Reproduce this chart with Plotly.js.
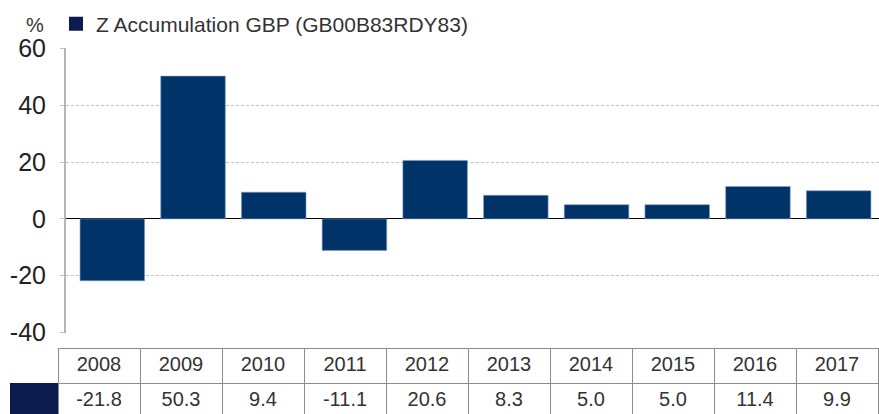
<!DOCTYPE html>
<html>
<head>
<meta charset="utf-8">
<script src="https://cdn.plot.ly/plotly-3.0.1.min.js"></script>
<style>html,body{margin:0;padding:0;background:#fff;}#chart{width:879px;height:414px;}</style>
</head>
<body>
<div id="chart"></div>
<script>
var years = ["2008","2009","2010","2011","2012","2013","2014","2015","2016","2017"];
var returns = [-21.8, 50.3, 9.4, -11.1, 20.6, 8.3, 5.0, 5.0, 11.4, 9.9];
var seriesName = "Z Accumulation GBP (GB00B83RDY83)";
var yTicks = [-40, -20, 0, 20, 40, 60];

var W = 879, H = 414, ML = 10, MT = 48, MB = 0, MR = 0;
var PW = W - ML - MR, PH = H - MT - MB;
var axisLeft = 66, plotBottom = 333, tableTop = 348;
var FONT = "Liberation Sans, Arial, sans-serif";

var bar = {
  type: "bar",
  x: years.map(function(_, i){ return i; }),
  y: returns,
  name: seriesName,
  width: 0.8,
  marker: {color: "#003469", line: {color: "#7f9cc2", width: 0.6}},
  hoverinfo: "skip",
  showlegend: false
};

// legend key (proxy with no plotted points)
var legendKey = {
  type: "scatter",
  mode: "markers",
  x: [null], y: [null],
  name: seriesName,
  marker: {symbol: "square", size: 14, color: "#0b1b4d"},
  showlegend: true,
  hoverinfo: "skip"
};

var headerVals = [[""]].concat(years.map(function(y){ return [y]; }));
var cellVals = [[""]].concat(returns.map(function(v){ return [v.toFixed(1)]; }));
var lineCols = ["rgba(0,0,0,0)"].concat(years.map(function(){ return "#8c8c8c"; }));
var cellFill = ["#0b1b4d"].concat(years.map(function(){ return "#ffffff"; }));

var table = {
  type: "table",
  domain: {x: [0, 868 / PW], y: [0, (H - tableTop) / PH]},
  columnwidth: [48].concat(years.map(function(){ return 82; })),
  header: {
    values: headerVals,
    height: 35,
    align: "center",
    fill: {color: "#ffffff"},
    line: {color: lineCols, width: 1},
    font: {family: FONT, size: 20, color: "#333333"}
  },
  cells: {
    values: cellVals,
    height: 31,
    align: "center",
    fill: {color: cellFill},
    line: {color: lineCols, width: 1},
    font: {family: FONT, size: 20, color: "#333333"}
  }
};

var layout = {
  width: W, height: H,
  margin: {l: ML, r: MR, t: MT, b: MB, pad: 0},
  paper_bgcolor: "#ffffff", plot_bgcolor: "#ffffff",
  showlegend: true,
  legend: {
    x: (56 - ML) / PW, y: 1 + 24 / PH, xanchor: "left", yanchor: "middle",
    orientation: "h",
    font: {family: FONT, size: 21, color: "#333333"},
    bgcolor: "rgba(0,0,0,0)"
  },
  xaxis: {
    domain: [(axisLeft - ML) / PW, 1],
    range: [-0.574, 9.5],
    showticklabels: false, showgrid: false, zeroline: false, showline: false,
    ticks: "", fixedrange: true
  },
  yaxis: {
    domain: [(H - plotBottom) / PH, 1],
    range: [-40.2, 60.2],
    tickvals: yTicks,
    ticktext: yTicks.map(String),
    showgrid: true, gridcolor: "#c4c4c4", griddash: "3px,2px", gridwidth: 1,
    zeroline: true, zerolinecolor: "#000000", zerolinewidth: 1.2,
    showline: true, linecolor: "#b5b5b5", linewidth: 2,
    ticks: "outside", ticklen: 4, tickcolor: "#c4c4c4",
    ticklabelstandoff: 9,
    tickfont: {family: FONT, size: 25, color: "#222222"},
    fixedrange: true
  },
  annotations: [{
    text: "%", xref: "paper", yref: "paper",
    x: (24 - ML) / PW, y: 1 + 23 / PH, xanchor: "left", yanchor: "middle",
    showarrow: false,
    font: {family: FONT, size: 20, color: "#333333"}
  }]
};

Plotly.newPlot("chart", [bar, legendKey, table], layout, {displayModeBar: false, staticPlot: true});
</script>
</body>
</html>
